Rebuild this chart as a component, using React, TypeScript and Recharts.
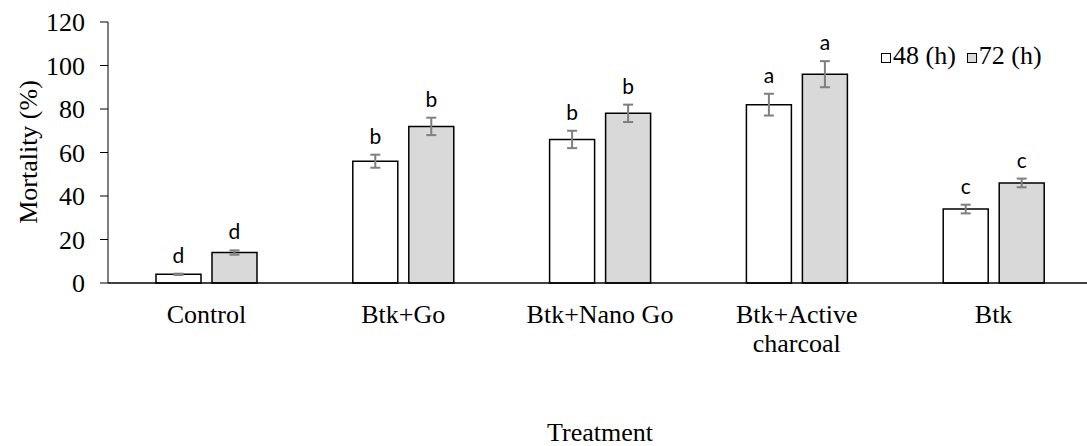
import React from "react";
import { BarChart, Bar, XAxis, YAxis, ErrorBar, LabelList } from "recharts";

const categories = ["Control", "Btk+Go", "Btk+Nano Go", "Btk+Active\ncharcoal", "Btk"];
const mortality48 = [4, 56, 66, 82, 34];
const mortality72 = [14, 72, 78, 96, 46];
const error48 = [0.3, 3, 4, 5, 2];
const error72 = [1, 4, 4, 6, 2];
const letters48 = ["d", "b", "b", "a", "c"];
const letters72 = ["d", "b", "b", "a", "c"];
const yTicks = [0, 20, 40, 60, 80, 100, 120];
const seriesNames = ["48 (h)", "72 (h)"];
const seriesFills = ["#ffffff", "#d9d9d9"];

const data = categories.map((c, i) => ({
  name: c,
  m48: mortality48[i],
  m72: mortality72[i],
  e48: error48[i],
  e72: error72[i],
}));

const SERIF = "'Liberation Serif', 'Times New Roman', serif";
const SANS = "Lato, 'Liberation Sans', sans-serif";

const CatTick = (props: any) => {
  const { x, y, payload } = props;
  const lines = String(payload.value).split("\n");
  return (
    <text x={x} y={y + 40} textAnchor="middle" fontFamily={SERIF} fontSize={26} fill="#000">
      {lines.map((l, i) => (
        <tspan key={i} x={x} dy={i === 0 ? 0 : 29} fontFamily={SERIF}>
          {l}
        </tspan>
      ))}
    </text>
  );
};

const makeLetter = (letters: string[], errs: number[]) => (props: any) => {
  const { x, y, width, height, value, index } = props;
  const pxPer = value ? height / value : 0;
  const top = y - errs[index] * pxPer;
  return (
    <text
      x={x + width / 2}
      y={top - 11}
      textAnchor="middle"
      fontFamily={SANS}
      fontSize={21}
      fill="#000"
    >
      {letters[index]}
    </text>
  );
};

const YLabel = () => (
  <text
    x={37}
    y={152}
    transform="rotate(-90, 37, 152)"
    textAnchor="middle"
    fontFamily={SERIF}
    fontSize={26}
    fill="#000"
  >
    Mortality (%)
  </text>
);

const HtmlLegend = () => (
  <div
    style={{
      position: "absolute",
      left: 881,
      top: 43,
      display: "flex",
      alignItems: "center",
      fontFamily: SERIF,
      fontSize: 26,
      lineHeight: "26px",
      color: "#000",
      whiteSpace: "nowrap",
    }}
  >
    {seriesNames.map((n, i) => (
      <div key={n} style={{ display: "flex", alignItems: "center", marginRight: i === 0 ? 11 : 0 }}>
        <div
          style={{
            width: 8,
            height: 8,
            border: "1px solid #000",
            background: seriesFills[i],
            marginRight: 2,
            marginTop: 3,
          }}
        />
        <span>{n}</span>
      </div>
    ))}
  </div>
);

export default function App() {
  return (
    <div style={{ position: "absolute", left: 0, top: 0, width: 1087, height: 446, overflow: "hidden", background: "#fff" }}>
      <BarChart
        width={1100}
        height={446}
        data={data}
        margin={{ top: 22, right: 8, left: 0, bottom: 0 }}
        barSize={45}
        barGap={11}
      >
        <XAxis
          dataKey="name"
          height={163}
          tickLine={false}
          tickSize={0}
          tickMargin={0}
          axisLine={{ stroke: "#000", strokeWidth: 1.5 }}
          tick={<CatTick />}
          interval={0}
          label={{
            value: "Treatment",
            position: "insideBottom",
            offset: 5,
            style: { fontFamily: SERIF, fontSize: 26, fill: "#000" },
          }}
        />
        <YAxis
          width={108}
          domain={[0, 120]}
          ticks={yTicks}
          interval={0}
          tickSize={8}
          tickMargin={15}
          tickLine={{ stroke: "#000" }}
          axisLine={{ stroke: "#000" }}
          tick={{ fontFamily: SERIF, fontSize: 26, fill: "#000" }}
          label={<YLabel />}
        />
        <Bar dataKey="m48" name={seriesNames[0]} fill={seriesFills[0]} stroke="#000" strokeWidth={1.5} isAnimationActive={false}>
          <ErrorBar dataKey="e48" direction="y" width={5} stroke="#7f7f7f" strokeWidth={2} isAnimationActive={false} />
          <LabelList dataKey="m48" content={makeLetter(letters48, error48)} />
        </Bar>
        <Bar dataKey="m72" name={seriesNames[1]} fill={seriesFills[1]} stroke="#000" strokeWidth={1.5} isAnimationActive={false}>
          <ErrorBar dataKey="e72" direction="y" width={5} stroke="#7f7f7f" strokeWidth={2} isAnimationActive={false} />
          <LabelList dataKey="m72" content={makeLetter(letters72, error72)} />
        </Bar>
      </BarChart>
      <HtmlLegend />
    </div>
  );
}
